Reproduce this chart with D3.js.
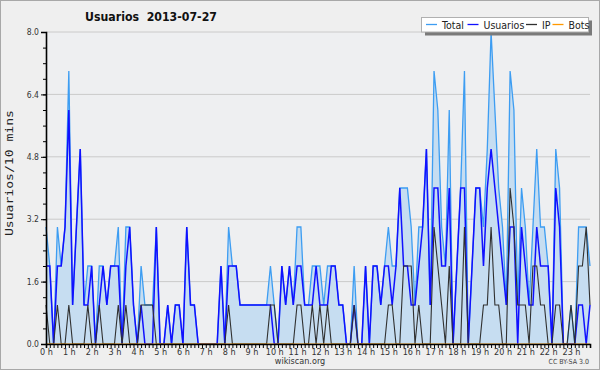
<!DOCTYPE html>
<html><head><meta charset="utf-8">
<script src="https://cdn.jsdelivr.net/npm/d3@7/dist/d3.min.js"></script>
<style>body{margin:0;background:#efefef}svg{display:block}</style>
</head><body>
<svg id="c" width="600" height="370"></svg>
<script>
const hourLabels = ["0 h","1 h","2 h","3 h","4 h","5 h","6 h","7 h","8 h","9 h","10 h","11 h","12 h","13 h","14 h","15 h","16 h","17 h","18 h","19 h","20 h","21 h","22 h","23 h"];
const yTicks = [0.0, 1.6, 3.2, 4.8, 6.4, 8.0];
const seriesNames = ["Total", "Usuarios", "IP", "Bots"];
const total = [3,2,0,3,2,3,7,1,3,5, 1,2,2,0,2,2,1,2,2,3, 0,3,3,1,0,2,1,1,1,3, 0,0,1,0,1,1,0,3,1,1,
  0,0,0,0,0,0,2,0,3,2, 2,1,1,1,1,1,1,1,1,2, 1,0,2,1,2,1,3,3,1,1, 2,2,2,1,2,2,2,1,1,0,
  0,2,0,0,2,0,2,2,1,2, 3,2,2,4,4,4,3,1,3,3, 5,1,7,6,3,2,6,0,2,4, 7,0,2,4,4,3,5,8,6,4,
  3,1,7,6,1,4,3,1,3,5, 3,3,2,0,5,4,0,0,1,0, 3,3,3,2];
const usuarios = [2,2,0,2,2,3,6,1,3,5, 1,1,2,0,1,2,1,2,2,2, 0,2,3,1,0,1,0,0,0,3, 0,0,1,0,1,1,0,3,1,1,
  0,0,0,0,0,0,2,0,2,2, 2,1,1,1,1,1,1,1,1,1, 0,0,2,1,2,1,2,2,1,1, 1,2,1,1,1,2,2,1,1,0,
  0,1,0,0,2,0,2,2,1,2, 2,1,2,4,2,2,1,1,2,3, 5,1,4,4,2,2,4,0,2,4, 4,0,2,4,4,2,4,5,4,3,
  2,1,3,3,0,3,2,1,1,3, 2,2,2,0,4,3,0,0,0,0, 1,1,0,1];
const ip = [1,0,0,1,0,0,1,0,0,0, 0,1,0,0,1,0,0,0,0,1, 0,1,0,0,0,1,1,1,1,0, 0,0,0,0,0,0,0,0,0,0,
  0,0,0,0,0,0,0,0,1,0, 0,0,0,0,0,0,0,0,0,1, 1,0,0,0,0,0,1,1,0,0, 1,0,1,0,1,0,0,0,0,0,
  0,1,0,0,0,0,0,0,0,0, 1,1,0,0,2,2,2,0,1,0, 0,0,3,2,1,0,2,0,0,0, 3,0,0,0,0,1,1,3,1,1,
  0,0,4,3,1,1,1,0,2,2, 1,1,0,0,1,1,0,0,1,0, 2,2,3,1];
const bots = [0,0,0,0,0,0,0,0,0,0, 0,0,0,0,0,0,0,0,0,0, 0,0,0,0,0,0,0,0,0,0, 0,0,0,0,0,0,0,0,0,0,
  0,0,0,0,0,0,0,0,0,0, 0,0,0,0,0,0,0,0,0,0, 0,0,0,0,0,0,0,0,0,0, 0,0,0,0,0,0,0,0,0,0,
  0,0,0,0,0,0,0,0,0,0, 0,0,0,0,0,0,0,0,0,0, 0,0,0,0,0,0,0,0,0,0, 0,0,0,0,0,0,0,0,0,0,
  0,0,0,0,0,0,0,0,0,0, 0,0,0,0,0,0,0,0,0,0, 0,0,0,0];
const colors = ["#3d9df2", "#1010ff", "#303030", "#ff9900"];

const svg = d3.select("#c");
const FONT = "'DejaVu Sans Condensed','DejaVu Sans',sans-serif";
const L = 46, R = 590, T = 32, B = 344;
const x = d3.scaleLinear().domain([0, total.length - 1]).range([L, R]);
const y = d3.scaleLinear().domain([0, 8]).range([B, T]);

svg.append("rect").attr("x",0.5).attr("y",0.5).attr("width",599).attr("height",369)
  .attr("fill","#efefef").attr("stroke","#a8a8a8");
svg.append("rect").attr("x",L).attr("y",T).attr("width",R-L).attr("height",B-T).attr("fill","#eeeff1");

// grid
svg.append("g").selectAll("line").data(yTicks.filter(d=>d>0)).join("line")
  .attr("x1",L).attr("x2",R).attr("y1",d=>y(d)).attr("y2",d=>y(d))
  .attr("stroke","#cacaca").attr("stroke-width",1);

const idx = d3.range(total.length);
svg.append("path").datum(idx)
  .attr("d", d3.area().x(i=>x(i)).y0(B).y1(i=>y(total[i])))
  .attr("fill","#c6ddf1");

const series = [total, usuarios, ip, bots];
const widths = [1.3, 1.5, 1.1, 1.2];
series.forEach((s, k) => {
  svg.append("path").datum(idx)
    .attr("d", d3.line().x(i=>x(i)).y(i=>y(s[i])))
    .attr("fill","none").attr("stroke",colors[k]).attr("stroke-width",widths[k])
    .attr("stroke-linejoin","miter");
});

// y axis
const yAxis = d3.axisLeft(y).tickValues(yTicks).tickFormat(d3.format(".1f")).tickSize(5).tickPadding(2);
const gy = svg.append("g").attr("transform",`translate(${L},0)`).call(yAxis);
gy.select(".domain").attr("stroke","#000").attr("stroke-width",1.6);
gy.selectAll(".tick text").attr("font-family",FONT).attr("font-size",8.5).attr("fill","#333");
svg.append("g").attr("transform",`translate(${L},0)`)
  .call(d3.axisLeft(y).tickValues(d3.range(0, 8.01, 0.4)).tickSize(3).tickFormat(""))
  .select(".domain").remove();

// x axis
const xAxis = d3.axisBottom(x).tickValues(idx).tickSize(4).tickFormat(i => i % 6 === 0 ? hourLabels[i/6] : "");
const gx = svg.append("g").attr("transform",`translate(0,${B})`).call(xAxis);
gx.select(".domain").attr("stroke","#000").attr("stroke-width",1.6);
gx.selectAll(".tick text").attr("font-family",FONT).attr("font-size",9).attr("fill","#333").attr("dy","0.45em");

// title
svg.append("text").attr("x",85).attr("y",21).text("Usuarios  2013-07-27")
  .attr("font-family",FONT).attr("font-weight","bold").attr("font-size",12.5).attr("fill","#111")
  .attr("textLength",132).attr("lengthAdjust","spacingAndGlyphs").style("white-space","pre");

// y title
svg.append("text").attr("transform","translate(13,173) rotate(-90)").attr("text-anchor","middle")
  .text("Usuarios/10 mins").attr("font-family","'DejaVu Sans Mono',monospace").attr("font-size",11).attr("fill","#222")
  .attr("textLength",126).attr("lengthAdjust","spacingAndGlyphs");

// footer
svg.append("text").attr("x",300).attr("y",364).attr("text-anchor","middle").text("wikiscan.org")
  .attr("font-family",FONT).attr("font-size",9).attr("fill","#333");
svg.append("text").attr("x",589).attr("y",364).attr("text-anchor","end").text("CC BY-SA 3.0")
  .attr("font-family",FONT).attr("font-size",7).attr("fill","#444");

// legend
const lg = svg.append("g");
lg.append("rect").attr("x",425).attr("y",20.5).attr("width",167).attr("height",15).attr("fill","#7a7a7a");
lg.append("rect").attr("x",421.5).attr("y",17.5).attr("width",167).attr("height",14.5).attr("fill","#fff").attr("stroke","#b0b0b0");
const lx = [426, 467.5, 526, 552.5];
seriesNames.forEach((n,k) => {
  lg.append("line").attr("x1",lx[k]).attr("x2",lx[k]+11).attr("y1",24.5).attr("y2",24.5)
    .attr("stroke",colors[k]).attr("stroke-width",1.3);
  lg.append("text").attr("x",lx[k]+16).attr("y",28.5).text(n)
    .attr("font-family",FONT).attr("font-size",10.5).attr("fill","#222");
});
</script>
</body></html>
